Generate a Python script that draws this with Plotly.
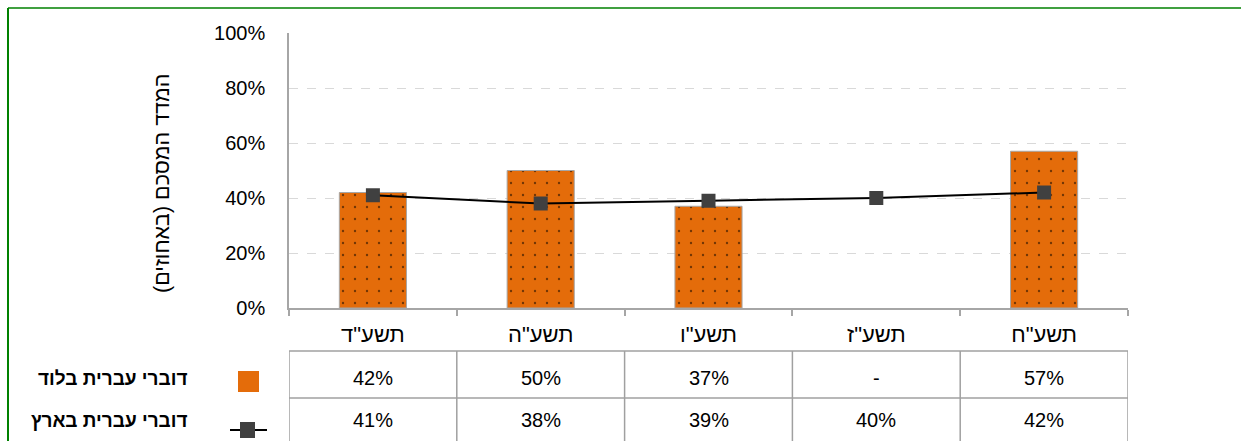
import plotly.graph_objects as go

categories = ['תשע"ד', 'תשע"ה', 'תשע"ו', 'תשע"ז', 'תשע"ח']
series_bar_name = "דוברי עברית בלוד"
series_line_name = "דוברי עברית בארץ"
bar_values = [42, 50, 37, None, 57]
line_values = [41, 38, 39, 40, 42]
y_tick_values = [0, 20, 40, 60, 80, 100]
y_tick_labels = ["0%", "20%", "40%", "60%", "80%", "100%"]
y_title = "המדד המסכם (באחוזים)"

W, H = 1241, 441
def px(x):
    return x / W
def py(y):
    return 1 - y / H

FONT = "Liberation Sans, Arial, sans-serif"
ORANGE = "#E46C0A"
GRID_GRAY = "#a6a6a6"

fig = go.Figure()
fig.add_trace(go.Bar(
    x=categories, y=bar_values, name=series_bar_name, width=0.4,
    marker=dict(color=ORANGE, line=dict(color="#a6a6a6", width=1),
                pattern=dict(shape=".", fgcolor="black", bgcolor=ORANGE,
                             size=12, solidity=0.03, fillmode="overlay")),
    showlegend=False, hoverinfo="skip",
))
fig.add_trace(go.Scatter(
    x=categories, y=line_values, name=series_line_name, mode="lines+markers",
    line=dict(color="black", width=2),
    marker=dict(symbol="square", size=14, color="#404040"),
    showlegend=False,
))

fig.update_layout(
    width=W, height=H, margin=dict(l=0, r=0, t=0, b=0, autoexpand=False),
    paper_bgcolor="white", plot_bgcolor="white",
    font=dict(family=FONT, size=19, color="black"),
    xaxis=dict(domain=[px(289), px(1128)], type="category", tickson="boundaries",
               ticks="outside", ticklen=6, tickcolor=GRID_GRAY, tickwidth=1.5,
               showline=True, linecolor=GRID_GRAY, linewidth=1.5, automargin=False,
               showgrid=False, tickfont=dict(size=22), range=[-0.5, 4.5],
               ticklabelstandoff=6),
    yaxis=dict(domain=[py(308), py(33)], range=[0, 100], tickvals=y_tick_values,
               ticktext=y_tick_labels, showline=True, linecolor=GRID_GRAY, linewidth=1.5,
               showgrid=True, gridcolor="#d9d9d9", griddash="dash", gridwidth=1,
               automargin=False,
               zeroline=False, ticklabelstandoff=18, tickfont=dict(size=20)),
    bargap=0.6,
)

# y-axis title (RTL mark keeps parentheses in place)
fig.add_annotation(text=y_title + "\u200f", xref="paper", yref="paper",
                   x=px(162), y=py(184), showarrow=False, textangle=-90,
                   font=dict(size=21.5), xanchor="center", yanchor="middle")

# green frame
fig.add_shape(type="line", xref="paper", yref="paper", x0=px(8), x1=px(8),
              y0=0, y1=py(8), line=dict(color="#008000", width=2))
fig.add_shape(type="line", xref="paper", yref="paper", x0=px(8), x1=1,
              y0=py(8), y1=py(8), line=dict(color="#008000", width=1.5))

# data table grid
TABLE_GRAY = "#a0a0a0"
row_tops = [351, 398]
for yy in row_tops:
    fig.add_shape(type="line", xref="x", yref="paper", x0=-0.5, x1=len(categories) - 0.5,
                  y0=py(yy), y1=py(yy), line=dict(color=TABLE_GRAY, width=1.5))
for i in range(len(categories) + 1):
    fig.add_shape(type="line", xref="x", yref="paper", x0=i - 0.5, x1=i - 0.5,
                  y0=py(351), y1=0, line=dict(color=TABLE_GRAY, width=1.5))

def fmt(v):
    return "-" if v is None else f"{v}%"

for cat, v in zip(categories, bar_values):
    fig.add_annotation(text=fmt(v), xref="x", yref="paper", x=cat, y=py(378),
                       showarrow=False, font=dict(size=20), yanchor="middle")
for cat, v in zip(categories, line_values):
    fig.add_annotation(text=fmt(v), xref="x", yref="paper", x=cat, y=py(420),
                       showarrow=False, font=dict(size=20), yanchor="middle")

# legend labels
fig.add_annotation(text="<b>" + series_bar_name + "</b>", xref="paper", yref="paper",
                   x=px(189), y=py(378), xanchor="right", yanchor="middle",
                   showarrow=False, font=dict(size=19))
fig.add_annotation(text="<b>" + series_line_name + "</b>", xref="paper", yref="paper",
                   x=px(190), y=py(420), xanchor="right", yanchor="middle",
                   showarrow=False, font=dict(size=19))
# legend symbols
fig.add_shape(type="rect", xref="paper", yref="paper", x0=px(238), x1=px(259),
              y0=py(392), y1=py(371), fillcolor=ORANGE, line=dict(width=0))
fig.add_shape(type="line", xref="paper", yref="paper", x0=px(230), x1=px(267),
              y0=py(430), y1=py(430), line=dict(color="black", width=2))
fig.add_shape(type="rect", xref="paper", yref="paper", x0=px(240), x1=px(255),
              y0=py(438), y1=py(422), fillcolor="#404040", line=dict(width=0))

fig.write_html("out.html", config={"displayModeBar": False},
               post_script="document.body.style.margin='0';document.body.style.padding='0';")
